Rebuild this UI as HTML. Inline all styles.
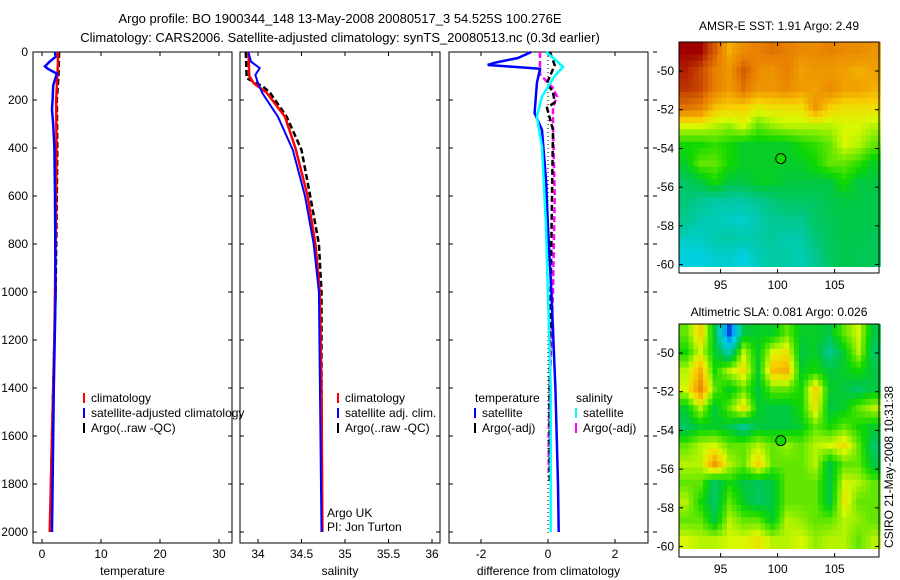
<!DOCTYPE html>
<html><head><meta charset="utf-8">
<style>
html,body{margin:0;padding:0;background:#fff;}
svg{display:block;font-family:"Liberation Sans",Arial,sans-serif;}
</style></head>
<body>
<svg id="fig" width="900" height="580" viewBox="0 0 900 580" xmlns="http://www.w3.org/2000/svg">
<text x="340" y="23" font-size="13" text-anchor="middle">Argo profile: BO 1900344_148 13-May-2008 20080517_3 54.525S 100.276E</text>
<text x="340" y="42" font-size="13" text-anchor="middle">Climatology: CARS2006. Satellite-adjusted climatology: synTS_20080513.nc (0.3d earlier)</text>
<text x="779" y="30" font-size="12" text-anchor="middle">AMSR-E SST: 1.91  Argo: 2.49</text>
<text x="779" y="316" font-size="12" text-anchor="middle">Altimetric SLA: 0.081  Argo: 0.026</text>
<text transform="translate(893,548) rotate(-90)" font-size="12">CSIRO 21-May-2008 10:31:38</text>
<g id="g"></g>
</svg>
<script>
// ---- profile data ----
const tempClimDepth=[0,50,100,200,400,600,800,1000,1200,1400,1600,1800,2000];
const tempClim=[2.7,2.7,2.6,2.4,2.45,2.4,2.3,2.2,2.1,1.9,1.7,1.5,1.3];
const tempSatDepth=[0,20,40,60,70,90,140,200,240,300,400,600,1000,1400,1800,2000];
const tempSat=[2.2,2.3,1.3,0.5,1.0,2.5,1.9,1.8,1.7,1.9,2.1,2.2,2.3,2.0,1.8,1.7];
const tempArgoDepth=[0,100,200,400,600,1000,1400,1800,1900];
const tempArgo=[2.9,2.8,2.5,2.6,2.5,2.3,1.9,1.5,1.5];
const salClimDepth=[0,100,130,170,270,400,600,800,1000,1400,2000];
const salClim=[33.89,33.9,33.95,34.1,34.31,34.43,34.57,34.66,34.71,34.73,34.74];
const salSatDepth=[0,40,67,96,130,171,270,408,600,800,1000,2000];
const salSat=[33.89,33.92,34.02,33.97,34.0,34.05,34.23,34.4,34.54,34.64,34.7,34.73];
const salArgoDepth=[0,109,144,171,270,408,600,800,1000,1850];
const salArgo=[33.86,33.87,34.06,34.14,34.33,34.5,34.6,34.7,34.73,34.73];
const dTempSatDepth=[0,25,45,54,62,70,129,254,325,533,729,1000,1400,1800,2000];
const dTempSat=[-0.5,-0.9,-1.6,-1.8,-1.0,-0.24,-0.33,-0.4,-0.18,-0.06,0,0.1,0.22,0.3,0.32];
const dSalSatDepth=[0,30,62,100,186,270,395,727,1400,2000];
const dSalSat=[-0.06,0.2,0.45,0.2,-0.18,-0.33,-0.18,-0.06,0.08,0.08];
const dTempArgoDepth=[0,55,129,167,210,233,325,600,1000,1400,1800];
const dTempArgo=[0.06,0.2,-0.03,0.15,0.2,-0.03,0.15,0.12,0.08,0.05,0.05];
const dSalArgoDepth=[0,93,150,186,228,300,600,1000,1400,1600,1750];
const dSalArgo=[-0.24,-0.24,0.15,0.27,0.15,0.15,0.2,0.15,0.05,0.02,0.02];
const depthTicks=[0,200,400,600,800,1000,1200,1400,1600,1800,2000];
const tempTicks=[0,10,20,30];
const salTicks=[34,34.5,35,35.5,36];
const salTickLabels=["34","34.5","35","35.5","36"];
const diffTicks=[-2,0,2];
// ---- map data (rows north->south, cols west->east), normalized colour value ----
const sstGrid=[
[.95,.95,.85,.72,.78,.8,.82,.8,.78,.78,.8,.78,.78,.76],
[.92,.88,.8,.76,.85,.78,.76,.8,.74,.76,.75,.74,.72,.74],
[.9,.88,.8,.75,.82,.76,.76,.78,.75,.74,.78,.74,.74,.72],
[.82,.8,.7,.68,.68,.64,.66,.66,.66,.76,.68,.66,.66,.66],
[.62,.62,.6,.58,.62,.55,.58,.6,.6,.6,.6,.62,.62,.6],
[.5,.5,.52,.5,.47,.47,.47,.47,.5,.52,.55,.62,.6,.55],
[.47,.55,.55,.5,.47,.47,.47,.47,.47,.5,.55,.55,.52,.47],
[.42,.45,.5,.45,.45,.47,.47,.45,.45,.45,.45,.5,.45,.45],
[.4,.38,.36,.36,.36,.38,.4,.42,.42,.42,.44,.45,.45,.44],
[.38,.35,.34,.33,.32,.35,.38,.38,.38,.42,.43,.44,.44,.44],
[.33,.33,.35,.36,.35,.36,.37,.35,.36,.4,.43,.44,.44,.43],
[.3,.3,.32,.32,.3,.34,.36,.36,.34,.38,.42,.44,.43,.43]];
const slaGrid=[
[.55,.68,.45,.12,.45,.47,.47,.55,.47,.47,.45,.55,.62,.45],
[.5,.62,.47,.35,.6,.47,.62,.65,.45,.47,.38,.47,.6,.42],
[.6,.72,.5,.6,.66,.47,.7,.72,.47,.5,.45,.47,.5,.45],
[.62,.78,.55,.47,.55,.45,.55,.55,.5,.68,.47,.45,.42,.45],
[.47,.6,.45,.55,.66,.47,.45,.45,.5,.65,.45,.47,.55,.6],
[.42,.47,.47,.45,.38,.45,.45,.45,.47,.55,.5,.55,.5,.47],
[.55,.6,.62,.55,.55,.6,.55,.58,.55,.6,.62,.66,.55,.42],
[.6,.6,.75,.6,.55,.68,.55,.55,.55,.6,.45,.55,.55,.45],
[.55,.55,.42,.5,.45,.43,.45,.55,.55,.55,.45,.62,.6,.55],
[.6,.5,.42,.55,.47,.42,.45,.55,.55,.55,.45,.65,.55,.55],
[.55,.55,.45,.6,.55,.55,.47,.6,.58,.55,.55,.6,.58,.55],
[.62,.6,.6,.62,.62,.65,.6,.6,.62,.58,.6,.6,.55,.6]];
const lonTicks=[95,100,105];
const latTicks=[-50,-52,-54,-56,-58,-60];
const floatLon=[100.276];
const floatLat=[-54.525];

const NS="http://www.w3.org/2000/svg";
const G=document.getElementById('g');
function mk(tag,attrs,parent){const e=document.createElementNS(NS,tag);for(const k in attrs)e.setAttribute(k,attrs[k]);(parent||G).appendChild(e);return e;}
function txt(x,y,s,anchor,size,parent){const t=mk('text',{x:x,y:y,'font-size':size||12,'text-anchor':anchor||'start'},parent);t.textContent=s;return t;}

const PT=52,PB=543;
const yD=d=>PT+d*0.24;
const panels=[
 {name:'temperature',x0:33,x1:232,fx:v=>42+5.9*v,ticks:tempTicks,labels:tempTicks.map(String),xlabel:'temperature'},
 {name:'salinity',x0:240,x1:440,fx:v=>258+87*(v-34),ticks:salTicks,labels:salTickLabels,xlabel:'salinity'},
 {name:'difference',x0:449,x1:648,fx:v=>548+33.5*v,ticks:diffTicks,labels:diffTicks.map(String),xlabel:'difference from climatology'}];

function line(p,depths,vals,color,w,dash,name){
  const pts=depths.map((d,i)=>p.fx(vals[i]).toFixed(1)+','+yD(d).toFixed(1)).join(' ');
  const e=mk('polyline',{points:pts,fill:'none',stroke:color,'stroke-width':w});
  if(dash)e.setAttribute('stroke-dasharray',dash);
  
  
}

panels.forEach((p,pi)=>{
  const g=mk('g',{});
  
  
  mk('rect',{x:p.x0,y:PT,width:p.x1-p.x0,height:PB-PT,fill:'#fff',stroke:'#000','stroke-width':1},g);
  depthTicks.forEach(d=>{
    const y=yD(d);
    mk('line',{x1:p.x0,y1:y,x2:p.x0+4,y2:y,stroke:'#000'},g);
    mk('line',{x1:p.x1,y1:y,x2:p.x1-4,y2:y,stroke:'#000'},g);
    if(pi===0){const t=txt(p.x0-5,y+4,String(d),'end',12,g);}
    if(pi===2){mk('line',{x1:p.x1+5,y1:y,x2:p.x1+9,y2:y,stroke:'#000'},g);}
  });
  p.ticks.forEach((v,i)=>{
    const x=p.fx(v);
    mk('line',{x1:x,y1:PB,x2:x,y2:PB-4,stroke:'#000'},g);
    mk('line',{x1:x,y1:PT,x2:x,y2:PT+4,stroke:'#000'},g);
    const t=txt(x,PB+15,p.labels[i],'middle',12,g);
    
    
  });
  const xl=txt((p.x0+p.x1)/2,PB+32,p.xlabel,'middle',12,g);
  
  
});
const P=panels;
line(P[0],tempArgoDepth,tempArgo,'#000',2.5,'6,3','temp-argo-line');
line(P[0],tempClimDepth,tempClim,'#f00',2.5,null,'temp-climatology-line');
line(P[0],tempSatDepth,tempSat,'#00f',2.5,null,'temp-satellite-line');
line(P[1],salArgoDepth,salArgo,'#000',2.5,'6,3','sal-argo-line');
line(P[1],salClimDepth,salClim,'#f00',2.5,null,'sal-climatology-line');
line(P[1],salSatDepth,salSat,'#00f',2,null,'sal-satellite-line');
const zl=mk('line',{x1:P[2].fx(0),y1:PT,x2:P[2].fx(0),y2:PB-10,stroke:'#000','stroke-width':1,'stroke-dasharray':'1,3'});


line(P[2],dSalArgoDepth,dSalArgo,'#f0f',2.5,'6,3','sal-argo-diff-line');
line(P[2],dTempArgoDepth,dTempArgo,'#000',2.5,'6,3','temp-argo-diff-line');
line(P[2],dTempSatDepth,dTempSat,'#00f',2.5,null,'temp-satellite-diff-line');
line(P[2],dSalSatDepth,dSalSat,'#0ff',2.5,null,'sal-satellite-diff-line');

function legend(items,x,y,name){
  const g=mk('g',{});
  
  
  items.forEach((it,i)=>{
    const yy=y+i*15;
    if(it[1])mk('line',{x1:x,y1:yy-9,x2:x,y2:yy+1,stroke:it[1],'stroke-width':2},g);
    txt(x+(it[1]?7:0),yy,it[0],'start',12,g);
  });
}
legend([['climatology','#f00'],['satellite-adjusted climatology','#00f'],['Argo(..raw -QC)','#000']],84,402,'temperature-legend');
legend([['climatology','#f00'],['satellite adj. clim.','#00f'],['Argo(..raw -QC)','#000']],338,402,'salinity-legend');
legend([['temperature',null],['satellite','#00f'],['Argo(-adj)','#000']],475,402,'temperature-diff-legend');
legend([['salinity',null],['satellite','#0ff'],['Argo(-adj)','#f0f']],576,402,'salinity-diff-legend');
txt(327,517,'Argo UK','start',12);
txt(327,531,'PI: Jon Turton','start',12);

// ---- maps ----
const stops=[[0,[0,0,160]],[.1,[0,48,224]],[.2,[0,160,240]],[.3,[0,208,224]],[.38,[0,200,144]],[.45,[0,200,64]],[.5,[16,216,0]],[.57,[128,236,0]],[.62,[216,248,0]],[.68,[248,208,0]],[.74,[240,160,0]],[.8,[232,128,0]],[.88,[200,72,0]],[.95,[160,0,0]],[1,[140,0,0]]];
function cmap(v){for(let i=1;i<stops.length;i++){if(v<=stops[i][0]){const a=stops[i-1],b=stops[i],t=(v-a[0])/(b[0]-a[0]);return 'rgb('+a[1].map((c,k)=>Math.round(c+(b[1][k]-c)*t)).join(',')+')';}}return 'rgb(140,0,0)';}
function sample(grid,fr,fc){
  const nr=grid.length,nc=grid[0].length;
  let r=Math.min(Math.max(fr-0.5,0),nr-1),c=Math.min(Math.max(fc-0.5,0),nc-1);
  const r0=Math.floor(r),c0=Math.floor(c),r1=Math.min(r0+1,nr-1),c1=Math.min(c0+1,nc-1);
  const tr=r-r0,tc=c-c0;
  return grid[r0][c0]*(1-tr)*(1-tc)+grid[r0][c1]*(1-tr)*tc+grid[r1][c0]*tr*(1-tc)+grid[r1][c1]*tr*tc;
}
function map(grid,top,bottom,name){
  const x0=679,x1=879;
  const lonX=l=>x0+(l-91.35)*11.4;
  const latY=l=>top+(-48.5-l)*19.35;
  const g=mk('g',{});
  
  
  mk('rect',{x:x0,y:top,width:x1-x0,height:bottom-top,fill:'#fff'},g);
  const nr=grid.length,nc=grid[0].length,S=3;
  const latS=-48.5,latE=-60.1,lonS=91.35,lonE=109.0;
  for(let r=0;r<nr*S;r++)for(let c=0;c<nc*S;c++){
    const v=sample(grid,(r+0.5)/S,(c+0.5)/S);
    const xa=lonX(lonS+(lonE-lonS)*c/(nc*S)),xb=lonX(lonS+(lonE-lonS)*(c+1)/(nc*S));
    const ya=latY(latS+(latE-latS)*r/(nr*S)),yb=latY(latS+(latE-latS)*(r+1)/(nr*S));
    const cell=mk('rect',{x:xa.toFixed(1),y:ya.toFixed(1),width:(xb-xa+0.6).toFixed(1),height:(yb-ya+0.6).toFixed(1),fill:cmap(v)},g);
    
    
  }
  mk('rect',{x:x0,y:top,width:x1-x0,height:bottom-top,fill:'none',stroke:'#000'},g);
  lonTicks.forEach(l=>{const x=lonX(l);mk('line',{x1:x,y1:top,x2:x,y2:top+4,stroke:'#000'},g);mk('line',{x1:x,y1:bottom,x2:x,y2:bottom-4,stroke:'#000'},g);
    const t=txt(x,bottom+16,String(l),'middle',12,g);});
  latTicks.forEach(l=>{const y=latY(l);mk('line',{x1:x0,y1:y,x2:x0+4,y2:y,stroke:'#000'},g);mk('line',{x1:x1,y1:y,x2:x1-4,y2:y,stroke:'#000'},g);
    const t=txt(x0-5,y+4,String(l),'end',12,g);});
  const m=mk('circle',{cx:lonX(floatLon[0]),cy:latY(floatLat[0]),r:5,fill:'#10d800',stroke:'#000','stroke-width':1},g);
  
  
}
map(sstGrid,42,273,'sst-map');
map(slaGrid,324,557,'sla-map');
</script>
</body></html>
